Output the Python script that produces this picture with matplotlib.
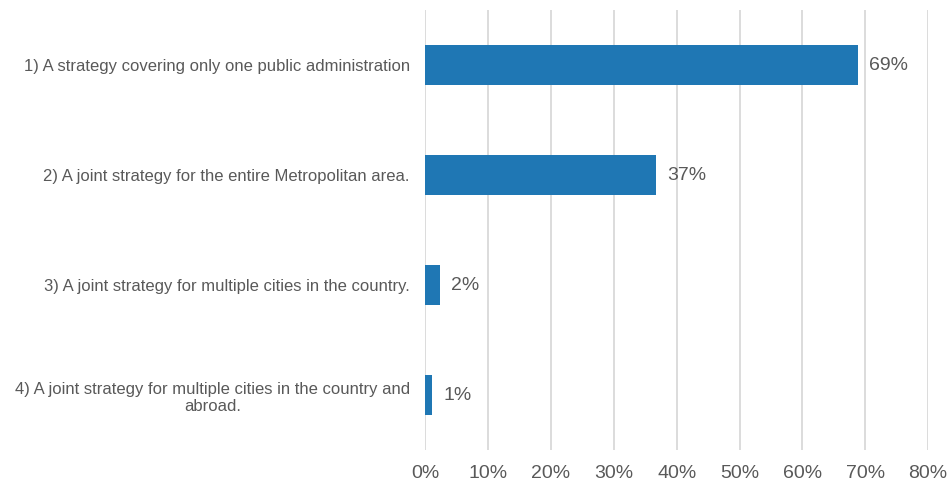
import matplotlib.pyplot as plt
from matplotlib.ticker import PercentFormatter

categories = [
    "1) A strategy covering only one public administration",
    "2) A joint strategy for the entire Metropolitan area.",
    "3) A joint strategy for multiple cities in the country.",
    "4) A joint strategy for multiple cities in the country and\nabroad.",
]
values = [0.689, 0.367, 0.024, 0.011]
value_labels = ["69%", "37%", "2%", "1%"]
x_ticks = [0, 0.1, 0.2, 0.3, 0.4, 0.5, 0.6, 0.7, 0.8]

plt.rcParams['font.family'] = ['Liberation Sans', 'DejaVu Sans']
text_color = '#595959'

fig = plt.figure(figsize=(9.49, 4.87), dpi=100)
ax = fig.add_axes([0.448, 0.076, 0.53, 0.903])

y = list(range(len(categories)))
bars = ax.barh(y, values, height=0.36, color='#1f77b4', zorder=3)
ax.bar_label(bars, labels=value_labels, padding=8, fontsize=14, color=text_color)

ax.set_ylim(len(categories) - 0.5, -0.5)
ax.set_xlim(0, 0.8)
ax.set_xticks(x_ticks)
ax.xaxis.set_major_formatter(PercentFormatter(1.0, decimals=0))
ax.set_yticks(y)
ax.set_yticklabels(categories, multialignment='center')

ax.grid(axis='x', color='#d9d9d9', linewidth=1.3, zorder=0)
for s in ax.spines.values():
    s.set_visible(False)
ax.tick_params(axis='both', length=0, colors=text_color)
ax.tick_params(axis='x', labelsize=14, pad=11)
ax.tick_params(axis='y', labelsize=12, pad=11)

fig.savefig('out.png', dpi=100)
